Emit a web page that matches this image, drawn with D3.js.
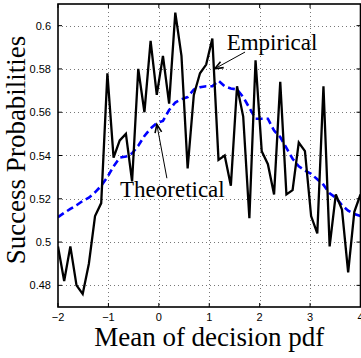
<!DOCTYPE html>
<html><head><meta charset="utf-8">
<script src="https://cdn.jsdelivr.net/npm/d3@7"></script>
<style>body{margin:0;background:#fff}svg{display:block}</style>
</head><body>
<svg id="c" width="361" height="358"></svg>
<script>
// ---- data ----
const xStart = -2, xEnd = 4, nPoints = 50;
const empirical = [0.498,0.482,0.498,0.480,0.476,0.490,0.512,0.518,0.578,0.539,
  0.547,0.550,0.528,0.580,0.560,0.593,0.568,0.586,0.564,0.606,
  0.586,0.534,0.568,0.578,0.582,0.594,0.538,0.540,0.526,0.572,
  0.558,0.511,0.584,0.542,0.536,0.522,0.574,0.522,0.524,0.546,
  0.542,0.512,0.504,0.572,0.498,0.522,0.515,0.486,0.514,0.522];
const theoretical = [0.5115,0.5135,0.5153,0.517,0.519,0.5205,0.523,0.526,0.530,0.535,
  0.539,0.5395,0.541,0.5445,0.549,0.5525,0.555,0.556,0.561,0.5645,
  0.566,0.567,0.5705,0.5715,0.572,0.572,0.5745,0.572,0.571,0.5705,
  0.567,0.562,0.557,0.557,0.557,0.5515,0.5485,0.5435,0.5385,0.535,
  0.533,0.5315,0.529,0.5265,0.5225,0.5205,0.517,0.5145,0.513,0.512];
const xTicks = [-2,-1,0,1,2,3,4];
const xTickLabels = ["\u22122","\u22121","0","1","2","3","4"];
const yTicks = [0.48,0.50,0.52,0.54,0.56,0.58,0.60];
const yTickLabels = ["0.48","0.5","0.52","0.54","0.56","0.58","0.6"];
const xLabel = "Mean of decision pdf";
const yLabel = "Success Probabilities";
const annEmp = {text:"Empirical", tx:1.345, ty:0.5886, ax0:1.71, ay0:0.5878, ax1:1.11, ay1:0.5801};
const annTheo = {text:"Theoretical", tx:-0.77, ty:0.5208, ax0:0.16, ay0:0.5295, ax1:-0.04, ay1:0.5544};

const xs = d3.range(nPoints).map(i => xStart + i*(xEnd-xStart)/(nPoints-1));

// ---- layout ----
const L = 58, R = 360.5, T = 4, B = 307;
const x = d3.scaleLinear().domain([-2,4]).range([L,R]);
const y = d3.scaleLinear().domain([0.47,0.61]).range([B,T]);
const svg = d3.select("#c");

// grid
const grid = svg.append("g").attr("stroke","#777").attr("stroke-width",1).attr("stroke-dasharray","1,3");
grid.selectAll(".gx").data(xTicks.slice(1,-1)).join("line")
  .attr("x1",d=>Math.round(x(d))+0.5).attr("x2",d=>Math.round(x(d))+0.5).attr("y1",T).attr("y2",B);
grid.selectAll(".gy").data(yTicks).join("line")
  .attr("y1",d=>Math.round(y(d))+0.5).attr("y2",d=>Math.round(y(d))+0.5).attr("x1",L).attr("x2",R);

// lines
svg.append("clipPath").attr("id","clp").append("rect").attr("x",L).attr("y",T).attr("width",R-L+1).attr("height",B-T);
const line = d3.line().x((d,i)=>x(xs[i])).y(d=>y(d));
svg.append("path").datum(theoretical).attr("d",line).attr("fill","none")
  .attr("stroke","#0000ff").attr("stroke-width",2.6).attr("stroke-dasharray","7,4").attr("clip-path","url(#clp)");
svg.append("path").datum(empirical).attr("d",line).attr("fill","none")
  .attr("stroke","#000").attr("stroke-width",2.3).attr("stroke-linejoin","miter").attr("clip-path","url(#clp)");

// axes box and ticks
const ax = svg.append("g").attr("stroke","#000");
ax.append("rect").attr("x",L).attr("y",T).attr("width",R-L).attr("height",B-T).attr("fill","none").attr("stroke-width",1.6);
const tl = 4;
xTicks.forEach(d=>{
  ax.append("line").attr("x1",x(d)).attr("x2",x(d)).attr("y1",B).attr("y2",B-tl).attr("stroke-width",1);
  ax.append("line").attr("x1",x(d)).attr("x2",x(d)).attr("y1",T).attr("y2",T+tl).attr("stroke-width",1);
});
yTicks.forEach(d=>{
  ax.append("line").attr("y1",y(d)).attr("y2",y(d)).attr("x1",L).attr("x2",L+tl).attr("stroke-width",1);
  ax.append("line").attr("y1",y(d)).attr("y2",y(d)).attr("x1",R).attr("x2",R-tl).attr("stroke-width",1);
});

// tick labels
const tf = "'Liberation Sans', Arial, sans-serif";
svg.append("g").selectAll("text").data(xTicks).join("text")
  .attr("x",d=>x(d)).attr("y",321).attr("text-anchor","middle")
  .attr("font-family",tf).attr("font-size",11).text((d,i)=>xTickLabels[i]);
svg.append("g").selectAll("text").data(yTicks).join("text")
  .attr("x",51).attr("y",d=>y(d)+4).attr("text-anchor","end")
  .attr("font-family",tf).attr("font-size",11).text((d,i)=>yTickLabels[i]);

// axis labels
const sf = "'Liberation Serif', 'Times New Roman', serif";
svg.append("text").attr("x",(L+R)/2).attr("y",346).attr("text-anchor","middle")
  .attr("font-family",sf).attr("font-size",27).text(xLabel);
svg.append("text").attr("transform","translate(25,150) rotate(-90)").attr("text-anchor","middle")
  .attr("font-family",sf).attr("font-size",27).text(yLabel);

// annotations
function annotate(a){
  const x0=x(a.ax0), y0=y(a.ay0), x1=x(a.ax1), y1=y(a.ay1);
  svg.append("line").attr("x1",x0).attr("y1",y0).attr("x2",x1).attr("y2",y1).attr("stroke","#000").attr("stroke-width",1);
  const ang=Math.atan2(y1-y0,x1-x0), len=9, sp=0.38;
  const p1=[x1-len*Math.cos(ang-sp), y1-len*Math.sin(ang-sp)];
  const p2=[x1-len*Math.cos(ang+sp), y1-len*Math.sin(ang+sp)];
  svg.append("path").attr("d",`M${p1}L${x1},${y1}L${p2}`).attr("fill","none").attr("stroke","#000").attr("stroke-width",1.6);
  svg.append("text").attr("x",x(a.tx)).attr("y",y(a.ty)).attr("font-family",sf).attr("font-size",23).text(a.text);
}
annotate(annEmp);
annotate(annTheo);
</script>
</body></html>
